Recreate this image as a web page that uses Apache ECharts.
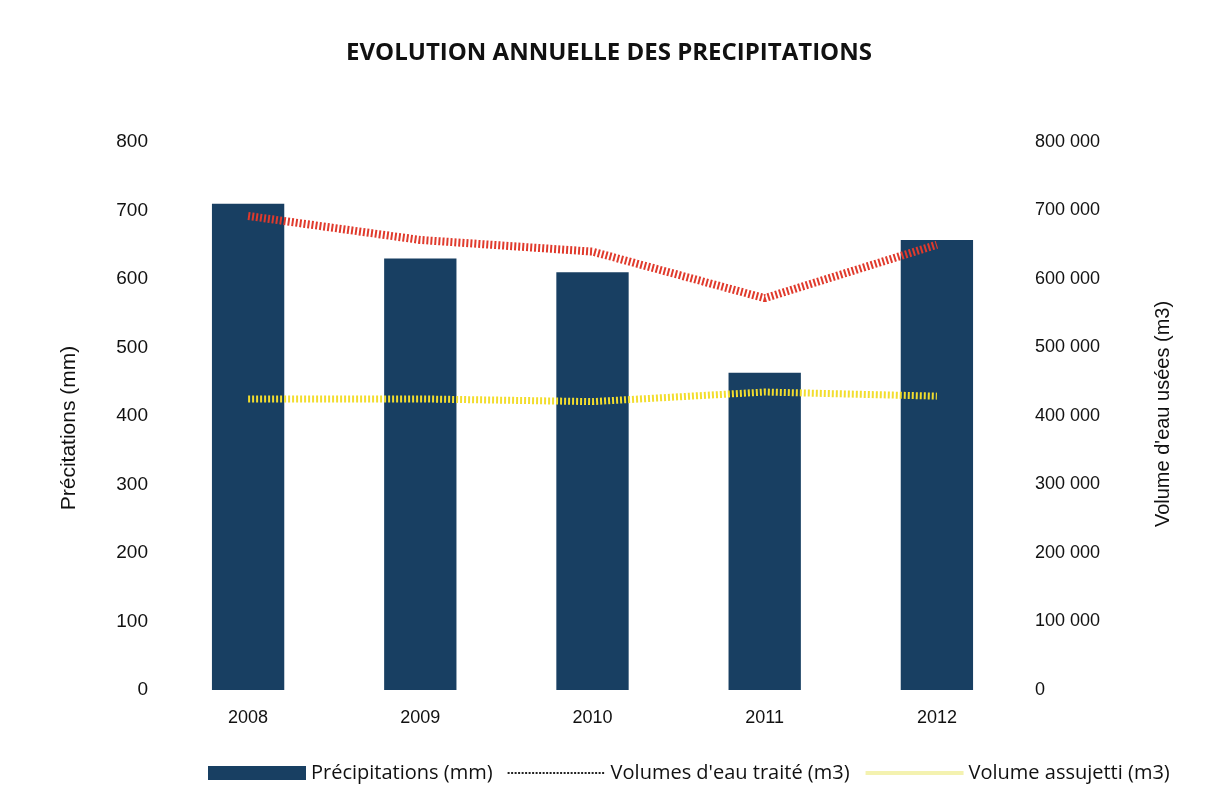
<!DOCTYPE html>
<html><head><meta charset="utf-8">
<script src="https://cdn.jsdelivr.net/npm/echarts@6/dist/echarts.min.js"></script>
<style>html,body{margin:0;padding:0;background:#fff}#c{width:1218px;height:790px}</style>
</head><body><div id="c"></div>
<script>
const years = ['2008','2009','2010','2011','2012'];
const precipitations = [710, 630, 610, 463, 657];
const volumesTraite = [692000, 657000, 640000, 572000, 650000];
const volumeAssujetti = [425000, 425000, 421000, 435000, 429000];

const chart = echarts.init(document.getElementById('c'));
const fmtSpace = v => String(v).replace(/\B(?=(\d{3})+(?!\d))/g, ' ');
chart.setOption({
  backgroundColor: '#ffffff',
  animation: false,
  title: {
    text: 'EVOLUTION ANNUELLE DES PRECIPITATIONS',
    left: 'center', top: 36,
    textStyle: {fontFamily: 'Open Sans', fontWeight: 'bold', fontSize: 24, color: '#111'}
  },
  graphic: [
    {type: 'text', x: 69, y: 428, rotation: Math.PI / 2,
     style: {text: 'Précitations (mm)', fontFamily: 'Liberation Sans', fontSize: 21, fill: '#111',
             align: 'center', verticalAlign: 'middle'}},
    {type: 'text', x: 1163, y: 414, rotation: Math.PI / 2,
     style: {text: "Volume d'eau usées (m3)", fontFamily: 'Liberation Sans', fontSize: 20, fill: '#111',
             align: 'center', verticalAlign: 'middle'}}
  ],
  legend: {
    bottom: 2, left: 203,
    itemWidth: 98, itemHeight: 14, itemGap: 14,
    textStyle: {fontFamily: 'Open Sans', fontSize: 20, color: '#111'},
    data: [
      {name: 'Précipitations (mm)', icon: 'rect'},
      {name: "Volumes d'eau traité (m3)", itemStyle: {opacity: 0}, lineStyle: {color: '#222', width: 2, type: [2, 1.5]}},
      {name: 'Volume assujetti (m3)', itemStyle: {opacity: 0}, lineStyle: {color: '#f4f2b0', width: 4, type: 'solid'}}
    ]
  },
  grid: {left: 162, right: 195, top: 142, bottom: 100},
  xAxis: {
    type: 'category', data: years,
    axisLine: {show: false}, axisTick: {show: false},
    axisLabel: {fontFamily: 'Liberation Sans', fontSize: 18, color: '#111', margin: 19}
  },
  yAxis: [
    {
      type: 'value', min: 0, max: 800, interval: 100,
      splitLine: {show: false}, axisLine: {show: false}, axisTick: {show: false},
      axisLabel: {fontFamily: 'Liberation Sans', fontSize: 19, color: '#111', margin: 14}
    },
    {
      type: 'value', min: 0, max: 800000, interval: 100000,
      splitLine: {show: false}, axisLine: {show: false}, axisTick: {show: false},
      axisLabel: {fontFamily: 'Liberation Sans', fontSize: 18, color: '#111', margin: 12, formatter: fmtSpace}
    }
  ],
  series: [
    {
      name: 'Précipitations (mm)', type: 'bar', data: precipitations,
      barWidth: '42%', itemStyle: {color: '#183f62'}
    },
    {
      name: "Volumes d'eau traité (m3)", type: 'line', yAxisIndex: 1, data: volumesTraite,
      symbol: 'none', lineStyle: {color: '#e03a2c', width: 8, type: [2, 2]}, z: 3
    },
    {
      name: 'Volume assujetti (m3)', type: 'line', yAxisIndex: 1, data: volumeAssujetti,
      symbol: 'none', lineStyle: {color: '#f2dd2e', width: 7, type: [2, 2]}, z: 3
    }
  ]
});
</script></body></html>
